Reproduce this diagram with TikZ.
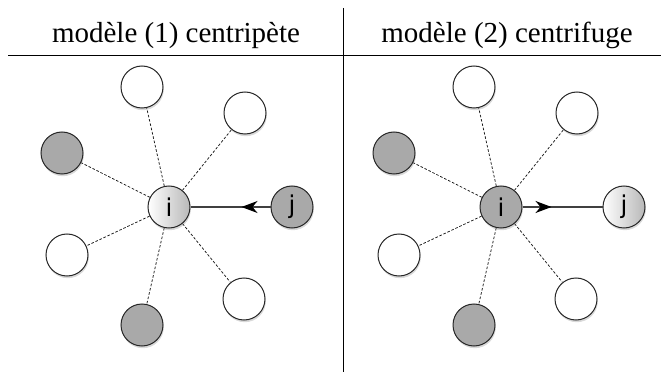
\documentclass[tikz,border=0pt]{standalone}
\usepackage{fontspec}
\setmainfont{Liberation Serif}
\newfontfamily\lblfont{DejaVu Sans}
\usetikzlibrary{shadows,decorations.markings,arrows.meta,backgrounds}
\definecolor{ngray}{HTML}{A9A9A9}
\definecolor{lgray}{HTML}{B8B8B8}
\tikzset{
  nd/.style={circle, minimum size=42pt, inner sep=0pt, draw=black!85, line width=1pt,
    drop shadow={shadow xshift=0.8pt, shadow yshift=-2.2pt, opacity=0.3}},
  wn/.style={nd, fill=white},
  gn/.style={nd, fill=ngray},
  ln/.style={nd, left color=white, right color=lgray},
  lbl/.style={font=\lblfont\fontsize{24.5}{24.5}\selectfont},
  dl/.style={dash pattern=on 2.6pt off 1.8pt, line width=0.75pt, black!90},
  rule/.style={line width=0.8pt, black},
  ttl/.style={font=\fontsize{29}{32}\selectfont, anchor=base, inner sep=0pt},
  conn/.style={line width=1.5pt, black!75},
  tip/.style={postaction={decorate}, decoration={markings,
    mark=at position 29pt with {\arrow[black]{Stealth[length=16pt,width=12pt,inset=5pt]}}}}
}
\begin{document}
\begin{tikzpicture}[x=1pt,y=-1pt]
\useasboundingbox (0,0) rectangle (661,374);
% rules
\coordinate (vt) at (343,8);
\coordinate (vb) at (343,372);
\coordinate (hl) at (8,55);
\coordinate (hr) at (661,55);
\draw[rule] (vt) -- (vb);
\draw[rule] (hl) -- (hr);
% titles
\node[ttl] (t1) at (176,43) {modèle (1) centripète};
\node[ttl] (t2) at (507,43) {modèle (2) centrifuge};
% left panel
\node[wn] (la) at (142,87) {};
\node[wn] (lb) at (245,113) {};
\node[gn] (lc) at (62,153) {};
\node[ln,lbl] (li) at (169,207) {i};
\node[gn,lbl] (lj) at (292,207) {j};
\node[wn] (ld) at (67,255) {};
\node[gn] (le) at (142,325) {};
\node[wn] (lf) at (244,299) {};
% right panel
\node[wn] (ra) at (474,87) {};
\node[wn] (rb) at (577,113) {};
\node[gn] (rc) at (394,153) {};
\node[gn,lbl] (ri) at (501,207) {i};
\node[ln,lbl] (rj) at (624,207) {j};
\node[wn] (rd) at (399,255) {};
\node[gn] (re) at (474,325) {};
\node[wn] (rf) at (576,299) {};
\begin{scope}[on background layer]
\foreach \n in {a,b,c,d,e,f}{
  \draw[dl] (li) -- (l\n);
  \draw[dl] (ri) -- (r\n);
}
\end{scope}
\draw[conn,tip] (lj) -- (li);
\draw[conn,tip] (ri) -- (rj);
\end{tikzpicture}
\end{document}
